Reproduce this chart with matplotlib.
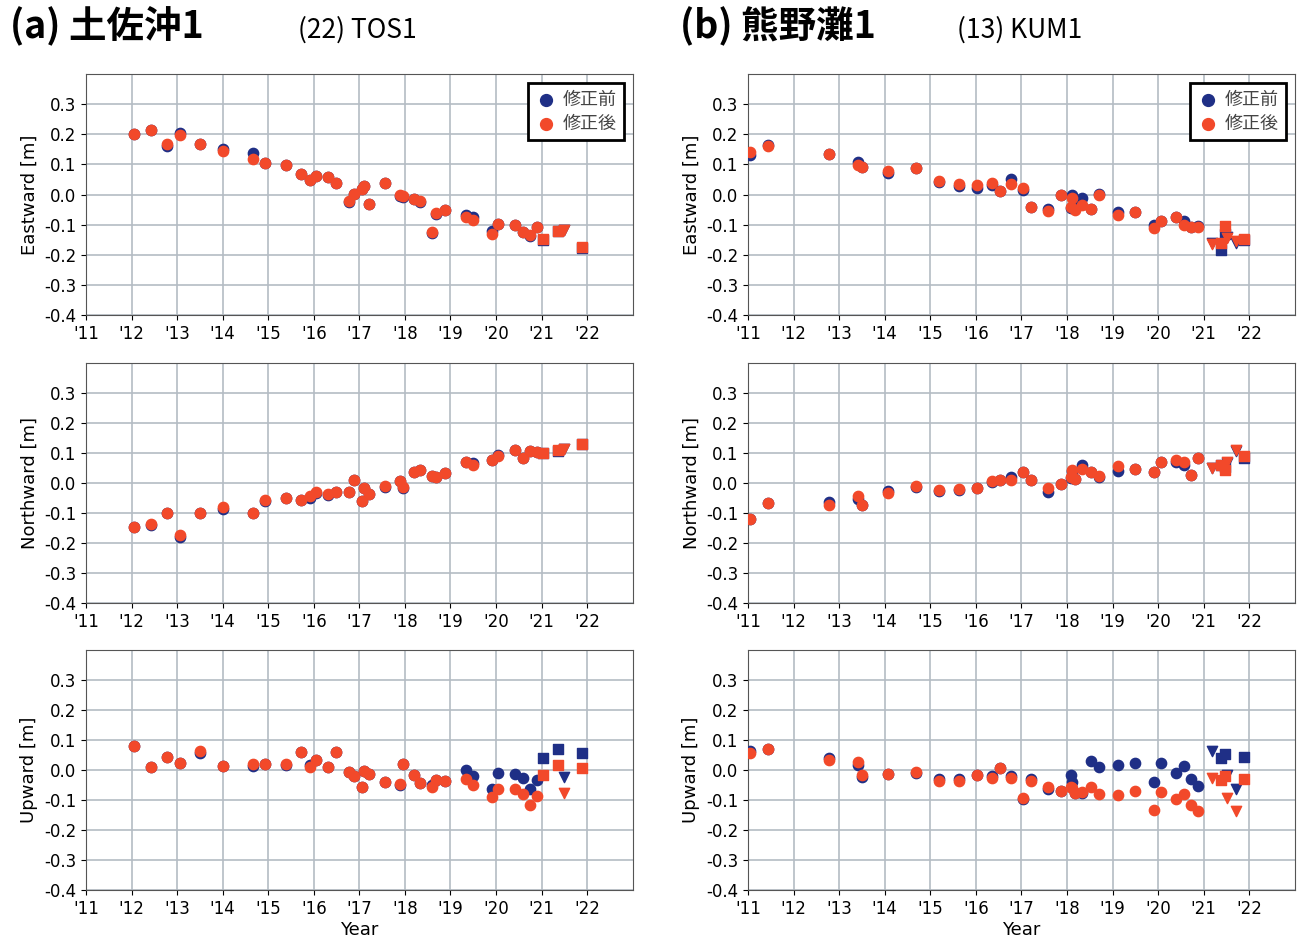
import matplotlib
matplotlib.use("Agg")
import matplotlib.pyplot as plt
import numpy as np

plt.rcParams['font.family'] = ['DejaVu Sans', 'Noto Sans CJK JP']

# (22) TOS1
tos_dates = [2012.05, 2012.43, 2012.78, 2013.06, 2013.51, 2014.01, 2014.66, 2014.94, 2015.40, 2015.71,
             2015.92, 2016.05, 2016.31, 2016.48, 2016.78, 2016.88, 2017.06, 2017.11, 2017.22, 2017.57,
             2017.90, 2017.95, 2018.19, 2018.33, 2018.60, 2018.69, 2018.89, 2019.33, 2019.50, 2019.91,
             2020.04, 2020.41, 2020.59, 2020.74, 2020.90, 2021.04, 2021.37, 2021.49, 2021.88]
tos_marks = ['o'] * 35 + ['s', 's', 'v', 's']
tos_east_before = [0.203, 0.215, 0.163, 0.205, 0.168, 0.150, 0.137, 0.106, 0.097, 0.068,
                   0.047, 0.063, 0.059, 0.037, -0.025, 0.001, 0.017, 0.028, -0.032, 0.039,
                   -0.004, -0.007, -0.016, -0.025, -0.128, -0.063, -0.052, -0.068, -0.073, -0.122,
                   -0.098, -0.102, -0.125, -0.138, -0.108, -0.150, -0.122, -0.118, -0.176]
tos_east_after = [0.203, 0.215, 0.168, 0.197, 0.168, 0.146, 0.118, 0.106, 0.097, 0.068,
                  0.050, 0.063, 0.059, 0.039, -0.023, 0.001, 0.019, 0.028, -0.032, 0.039,
                  -0.001, -0.006, -0.014, -0.023, -0.124, -0.061, -0.052, -0.074, -0.083, -0.130,
                  -0.098, -0.102, -0.123, -0.136, -0.108, -0.148, -0.121, -0.117, -0.174]
tos_north_before = [-0.147, -0.140, -0.098, -0.180, -0.100, -0.087, -0.098, -0.058, -0.050, -0.056,
                    -0.050, -0.034, -0.038, -0.031, -0.028, 0.011, -0.058, -0.017, -0.036, -0.012,
                    0.007, -0.016, 0.036, 0.044, 0.024, 0.020, 0.035, 0.071, 0.068, 0.078,
                    0.094, 0.109, 0.084, 0.108, 0.102, 0.100, 0.108, 0.114, 0.129]
tos_north_after = [-0.147, -0.136, -0.098, -0.171, -0.100, -0.080, -0.098, -0.056, -0.050, -0.056,
                   -0.044, -0.031, -0.036, -0.031, -0.028, 0.011, -0.058, -0.017, -0.036, -0.011,
                   0.007, -0.014, 0.036, 0.044, 0.024, 0.020, 0.033, 0.069, 0.062, 0.076,
                   0.091, 0.109, 0.084, 0.107, 0.102, 0.100, 0.109, 0.114, 0.129]
tos_up_before = [0.080, 0.009, 0.044, 0.024, 0.056, 0.012, 0.013, 0.019, 0.016, 0.058,
                 0.016, 0.032, 0.009, 0.058, -0.007, -0.020, -0.057, -0.004, -0.013, -0.040,
                 -0.049, 0.020, -0.018, -0.044, -0.051, -0.033, -0.038, -0.002, -0.020, -0.064,
                 -0.010, -0.013, -0.028, -0.062, -0.033, 0.038, 0.069, -0.024, 0.056]
tos_up_after = [0.080, 0.009, 0.044, 0.024, 0.062, 0.012, 0.018, 0.019, 0.019, 0.058,
                0.009, 0.032, 0.009, 0.058, -0.007, -0.020, -0.057, -0.004, -0.013, -0.040,
                -0.047, 0.020, -0.016, -0.044, -0.057, -0.033, -0.038, -0.029, -0.049, -0.089,
                -0.064, -0.064, -0.079, -0.116, -0.087, -0.016, 0.017, -0.078, 0.007]

# (13) KUM1
kum_dates = [2011.04, 2011.44, 2012.78, 2013.41, 2013.51, 2014.08, 2014.68, 2015.19, 2015.64, 2016.02,
             2016.35, 2016.52, 2016.78, 2017.04, 2017.21, 2017.59, 2017.87, 2018.08, 2018.11, 2018.18,
             2018.33, 2018.53, 2018.70, 2019.13, 2019.49, 2019.90, 2020.07, 2020.40, 2020.57, 2020.73,
             2020.88, 2021.19, 2021.38, 2021.47, 2021.51, 2021.70, 2021.88]
kum_marks = ['o'] * 31 + ['v', 's', 's', 'v', 'v', 's']
kum_east_before = [0.133, 0.164, 0.134, 0.109, 0.093, 0.071, 0.090, 0.042, 0.030, 0.023,
                   0.032, 0.011, 0.051, 0.016, -0.040, -0.047, -0.002, -0.043, -0.001, -0.038,
                   -0.013, -0.047, 0.003, -0.058, -0.058, -0.100, -0.087, -0.073, -0.087, -0.107,
                   -0.104, -0.160, -0.185, -0.130, -0.140, -0.160, -0.152]
kum_east_after = [0.140, 0.160, 0.134, 0.098, 0.093, 0.079, 0.090, 0.046, 0.034, 0.031,
                  0.037, 0.011, 0.034, 0.022, -0.040, -0.053, -0.002, -0.042, -0.011, -0.051,
                  -0.033, -0.047, -0.002, -0.067, -0.058, -0.111, -0.087, -0.073, -0.100, -0.107,
                  -0.107, -0.165, -0.160, -0.105, -0.145, -0.155, -0.148]
kum_north_before = [-0.120, -0.066, -0.063, -0.051, -0.071, -0.027, -0.013, -0.027, -0.022, -0.016,
                    0.004, 0.012, 0.022, 0.038, 0.011, -0.029, -0.004, 0.016, 0.040, 0.013,
                    0.059, 0.038, 0.020, 0.042, 0.046, 0.037, 0.070, 0.071, 0.060, 0.026,
                    0.084, 0.050, 0.060, 0.053, 0.068, 0.108, 0.084]
kum_north_after = [-0.120, -0.066, -0.073, -0.042, -0.071, -0.033, -0.009, -0.022, -0.018, -0.016,
                   0.008, 0.012, 0.012, 0.038, 0.011, -0.017, -0.004, 0.022, 0.045, 0.013,
                   0.047, 0.038, 0.024, 0.056, 0.046, 0.037, 0.070, 0.078, 0.069, 0.026,
                   0.084, 0.051, 0.062, 0.044, 0.070, 0.111, 0.090]
kum_up_before = [0.062, 0.069, 0.038, 0.016, -0.024, -0.013, -0.011, -0.031, -0.029, -0.018,
                 -0.022, 0.007, -0.020, -0.097, -0.031, -0.064, -0.071, -0.018, -0.039, -0.078,
                 -0.078, 0.031, 0.009, 0.017, 0.022, -0.042, 0.022, -0.011, 0.014, -0.031,
                 -0.053, 0.063, 0.038, 0.054, -0.016, -0.064, 0.044]
kum_up_after = [0.056, 0.069, 0.033, 0.027, -0.018, -0.013, -0.007, -0.036, -0.036, -0.018,
                -0.026, 0.007, -0.027, -0.094, -0.038, -0.056, -0.071, -0.056, -0.060, -0.078,
                -0.073, -0.056, -0.079, -0.082, -0.071, -0.133, -0.073, -0.098, -0.080, -0.117,
                -0.138, -0.027, -0.034, -0.022, -0.092, -0.138, -0.029]

year_ticks = list(range(2011, 2023))
year_labels = ["'%02d" % (y - 2000) for y in year_ticks]
y_ticks = [-0.4, -0.3, -0.2, -0.1, 0.0, 0.1, 0.2, 0.3]

c_before = '#1f2f86'
c_after = '#f2492a'

stations = [
    (tos_dates, tos_marks, [(tos_east_before, tos_east_after), (tos_north_before, tos_north_after),
                            (tos_up_before, tos_up_after)]),
    (kum_dates, kum_marks, [(kum_east_before, kum_east_after), (kum_north_before, kum_north_after),
                            (kum_up_before, kum_up_after)]),
]
ylabels = ['Eastward [m]', 'Northward [m]', 'Upward [m]']

fig = plt.figure(figsize=(13.02, 9.4), dpi=100)
lefts = [0.066, 0.5745]
width = 0.420
bottoms = [0.665, 0.358, 0.053]
height = 0.256

for col, (dates, marks, comps) in enumerate(stations):
    dates = np.array(dates)
    marks = np.array(marks)
    for row, (before, after) in enumerate(comps):
        ax = fig.add_axes([lefts[col], bottoms[row], width, height])
        before = np.array(before)
        after = np.array(after)
        for m in ['o', 's', 'v']:
            sel = marks == m
            ax.scatter(dates[sel], before[sel], marker=m, s=55, color=c_before, zorder=3,
                       label='修正前' if m == 'o' else None)
        for m in ['o', 's', 'v']:
            sel = marks == m
            ax.scatter(dates[sel], after[sel], marker=m, s=55, color=c_after, zorder=4,
                       label='修正後' if m == 'o' else None)
        ax.set_xlim(2011, 2023)
        ax.set_ylim(-0.4, 0.4)
        ax.set_xticks(year_ticks)
        ax.set_xticklabels(year_labels)
        ax.set_yticks(y_ticks)
        ax.set_yticklabels(['%.1f' % v for v in y_ticks])
        ax.tick_params(labelsize=12)
        ax.grid(True, color='#b4bcc4', linewidth=1.2)
        ax.set_axisbelow(True)
        for sp in ax.spines.values():
            sp.set_color('#555555')
        ax.set_ylabel(ylabels[row], fontsize=13)
        if row == 0:
            leg = ax.legend(loc='upper right', fancybox=False, framealpha=1,
                            edgecolor='black', handletextpad=0.3, borderpad=0.4,
                            markerscale=1.15, handlelength=1.2, labelspacing=0.35,
                            prop={'family': ['Noto Sans CJK JP'], 'size': 13})
            leg.get_frame().set_linewidth(2)
            for t in leg.get_texts():
                t.set_color('#444444')
        if row == 2:
            ax.set_xlabel('Year', fontsize=13, labelpad=2)

fig.text(0.008, 0.972, '(a) 土佐沖1', fontsize=27, fontweight='bold',
         family=['Noto Sans CJK JP'], va='center')
fig.text(0.229, 0.968, '(22) TOS1', fontsize=19, family=['Noto Sans CJK JP'], va='center')
fig.text(0.522, 0.972, '(b) 熊野灘1', fontsize=27, fontweight='bold',
         family=['Noto Sans CJK JP'], va='center')
fig.text(0.735, 0.968, '(13) KUM1', fontsize=19, family=['Noto Sans CJK JP'], va='center')

fig.savefig('out.png', dpi=100)
